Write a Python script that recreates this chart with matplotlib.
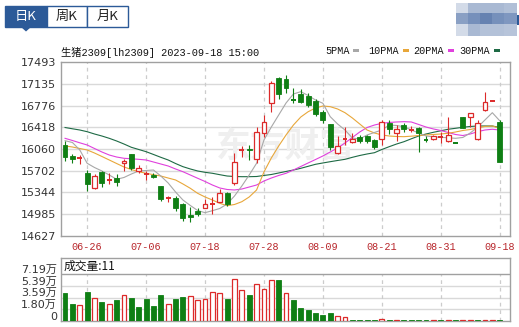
import matplotlib

matplotlib.use("Agg")
import matplotlib.pyplot as plt
from matplotlib.patches import Rectangle, Polygon
from matplotlib.transforms import ScaledTranslation, blended_transform_factory

W, H, DPI = 519, 327, 100

TITLE = "生猪2309[lh2309] 2023-09-18 15:00"
TABS = ["日K", "周K", "月K"]
MA_NAMES = ["5PMA", "10PMA", "20PMA", "30PMA"]

TICK_POS = [3, 11, 19, 27, 35, 43, 51, 59]
TICK_LABELS = ["06-26", "07-06", "07-18", "07-28", "08-09", "08-21", "08-31", "09-18"]
PRICE_TICKS = [14627, 14985, 15344, 15702, 16060, 16418, 16776, 17135, 17493]
VOL_TICKS = [0, 18000, 35900, 53900, 71900]
VOL_LABELS = ["0", "1.80万", "3.59万", "5.39万", "7.19万"]

# daily OHLC
OPEN = [16126, 15945, 15895, 15665, 15418, 15687, 15540, 15580, 15825, 15978,
        15700, 15640, 15630, 15450, 15240, 15260, 15160, 14965, 15040, 15085,
        15145, 15195, 15340, 15495, 16030, 16060, 15890, 16320, 16813, 17225,
        17208, 16885, 16960, 16935, 16855, 16665, 16472, 15998, 16215, 16170,
        16265, 16275, 16210, 16225, 16495, 16330, 16455, 16365, 16400, 16225,
        16220, 16250, 16195, 16170, 16580, 16595, 16220, 16703, 16850, 16510]
HIGH = [16192, 15978, 15960, 15714, 15640, 15700, 15660, 15650, 15900, 15985,
        15790, 15690, 15660, 15455, 15290, 15290, 15165, 15110, 15085, 15240,
        15270, 15400, 15345, 16000, 16110, 16125, 16430, 16620, 17185, 17250,
        17280, 17060, 17050, 16980, 16880, 16700, 16475, 16270, 16430, 16320,
        16290, 16290, 16220, 16540, 16540, 16455, 16485, 16440, 16430, 16275,
        16290, 16345, 16590, 16175, 16590, 16650, 16540, 16995, 16860, 16540]
LOW = [15862, 15830, 15815, 15370, 15400, 15440, 15480, 15450, 15700, 15710,
       15670, 15550, 15580, 15210, 15190, 15045, 14880, 14850, 14960, 15080,
       14990, 15190, 15120, 15465, 15935, 15880, 15825, 16255, 16675, 16880,
       16980, 16813, 16820, 16760, 16600, 16485, 16040, 15975, 16130, 16155,
       16155, 16165, 16055, 16125, 16310, 16200, 16345, 16345, 16015, 16180,
       16210, 16165, 16180, 16160, 16400, 16420, 16210, 16690, 16845, 15850]
CLOSE = [15928, 15895, 15910, 15483, 15616, 15496, 15555, 15510, 15860, 15755,
         15745, 15652, 15600, 15235, 15255, 15080, 14930, 14945, 14990, 15150,
         15160, 15330, 15150, 15840, 16045, 16040, 16345, 16510, 17142, 16966,
         17070, 16875, 16840, 16780, 16640, 16540, 16100, 16115, 16225, 16220,
         16195, 16190, 16100, 16510, 16385, 16395, 16390, 16375, 16320, 16215,
         16275, 16260, 16290, 16165, 16400, 16650, 16495, 16830, 16852, 15850]
VOLUME = [43300, 26000, 24500, 44900, 35200, 29100, 26000, 32600, 39800, 35700,
          21900, 34100, 23000, 39800, 25500, 33700, 36700, 37800, 32100, 33700,
          43900, 42400, 34100, 64300, 47400, 40200, 56200, 49000, 62700, 62700,
          42400, 32100, 20400, 16800, 11800, 9200, 12700, 7650, 6100, 900,
          700, 600, 800, 3200, 700, 500, 600, 400, 900, 300,
          400, 300, 600, 50, 400, 200, 300, 250, 30, 11]

# moving averages as drawn (they include history before the first candle)
MA5 = [16197, 16167, 16044, 15825, 15755, 15698, 15632, 15561, 15591, 15648,
       15698, 15706, 15714, 15615, 15500, 15352, 15220, 15130, 15047, 15011,
       15044, 15080, 15154, 15286, 15451, 15632, 15825, 16208, 16422, 16620,
       16818, 16966, 17004, 16941, 16867, 16813, 16592, 16472, 16373, 16241,
       16225, 16291, 16332, 16373, 16455, 16447, 16427, 16373, 16324, 16274,
       16261, 16253, 16245, 16236, 16250, 16324, 16418, 16538, 16658, 16526]
MA10 = [16110, 16093, 16068, 16044, 15994, 15937, 15879, 15821, 15764, 15722,
        15686, 15660, 15637, 15615, 15582, 15550, 15484, 15413, 15330, 15270,
        15220, 15166, 15126, 15146, 15192, 15270, 15385, 15681, 15912, 16110,
        16291, 16455, 16587, 16674, 16735, 16768, 16757, 16719, 16658, 16571,
        16472, 16373, 16324, 16291, 16274, 16266, 16263, 16271, 16282, 16291,
        16299, 16307, 16319, 16340, 16365, 16381, 16406, 16431, 16439, 16401]
MA20 = [16236, 16200, 16162, 16126, 16068, 16011, 15961, 15928, 15907, 15899,
        15890, 15879, 15846, 15813, 15780, 15731, 15686, 15632, 15578, 15525,
        15467, 15418, 15393, 15385, 15401, 15434, 15467, 15533, 15582, 15624,
        15660, 15714, 15772, 15830, 15887, 15945, 16011, 16077, 16159, 16250,
        16340, 16414, 16455, 16483, 16497, 16505, 16510, 16505, 16464, 16422,
        16390, 16365, 16332, 16299, 16282, 16307, 16345, 16373, 16385, 16373]
MA30 = [16414, 16393, 16373, 16345, 16307, 16274, 16236, 16192, 16142, 16088,
        16052, 16016, 15970, 15923, 15879, 15821, 15769, 15731, 15698, 15676,
        15660, 15637, 15615, 15607, 15604, 15604, 15607, 15624, 15640, 15665,
        15690, 15714, 15742, 15775, 15808, 15830, 15851, 15871, 15890, 15923,
        15953, 15978, 15999, 16052, 16098, 16142, 16180, 16228, 16274, 16307,
        16335, 16360, 16385, 16401, 16418, 16431, 16439, 16439, 16439, 16414]

RED = "#dc2a2a"
GREEN = "#0f7f14"
MA_COLORS = ["#a8a8a8", "#e8a73a", "#e040dd", "#1e6a45"]
TAB_BLUE = "#2c5a98"
GRID = "#d9d9d9"
FRAME = "#a0a0a0"
CJK = "Noto Sans CJK SC"
MONO = ["Liberation Mono", CJK]
SANS = ["DejaVu Sans", CJK]


def fx(x):
    return x / W


def fy(y):
    return 1 - y / H


def draw_candles(ax):
    bw = 0.66
    for i, (o, h, l, c) in enumerate(zip(OPEN, HIGH, LOW, CLOSE)):
        up = c >= o
        col = RED if up else GREEN
        top, bot = max(o, c), min(o, c)
        if top - bot < 18:
            ax.vlines(i, l, h, color=col, lw=0.8, zorder=3)
            ax.hlines(c, i - bw / 2, i + bw / 2, color=col, lw=1.4, zorder=3)
        elif up:
            ax.vlines(i, top, h, color=col, lw=0.8, zorder=3)
            ax.vlines(i, l, bot, color=col, lw=0.8, zorder=3)
            ax.add_patch(Rectangle((i - bw / 2, bot), bw, top - bot, facecolor="white",
                                   edgecolor=col, lw=0.9, zorder=3))
        else:
            ax.vlines(i, l, h, color=col, lw=0.8, zorder=3)
            ax.add_patch(Rectangle((i - bw / 2, bot), bw, top - bot, facecolor=col,
                                   edgecolor=col, lw=0.6, zorder=3))


def draw_volume(ax):
    bw = 0.66
    floor = 1100
    for i, v in enumerate(VOLUME):
        ref = CLOSE[i - 1] if i > 0 else OPEN[i]
        up = CLOSE[i] > ref
        hgt = max(v, floor)
        if up:
            ax.add_patch(Rectangle((i - bw / 2, 0), bw, hgt, facecolor="white",
                                   edgecolor=RED, lw=0.9, zorder=3))
        else:
            ax.add_patch(Rectangle((i - bw / 2, 0), bw, hgt, facecolor=GREEN,
                                   edgecolor=GREEN, lw=0.6, zorder=3))


def style_frame(ax):
    for s in ax.spines.values():
        s.set_color(FRAME)
        s.set_linewidth(1.0)
    ax.tick_params(length=0)


fig = plt.figure(figsize=(W / DPI, H / DPI), dpi=DPI)
fig.patch.set_facecolor("white")

# ---- top tabs
tab_x = [5, 47, 87, 128]
for k, name in enumerate(TABS):
    x0, x1 = tab_x[k], tab_x[k + 1]
    sel = k == 0
    fig.add_artist(Rectangle((fx(x0), fy(27)), fx(x1 - x0), 21 / H, transform=fig.transFigure,
                             facecolor=TAB_BLUE if sel else "white", edgecolor=TAB_BLUE, lw=1.0))
    fig.text(fx((x0 + x1) / 2), fy(16.5), name, ha="center", va="center", fontsize=9.5,
             family=[CJK], color="white" if sel else "#222222")
fig.add_artist(Polygon([(fx(21), fy(27)), (fx(31), fy(27)), (fx(26), fy(31.5))],
                       closed=True, transform=fig.transFigure, facecolor=TAB_BLUE, edgecolor="none"))

# ---- blurred block top right
cols = [456, 468, 480, 492, 504, 517]
rows = [3, 13, 24, 36]
shades = [["#d3dbe8", "#a9b9d3", "#a9b9d3", "#a9b9d3", "#b0bfd7"],
          ["#8aa0c4", "#7690bb", "#6682b1", "#7690bb", "#7f97c0"],
          ["#d3dbe8", "#a9b9d3", "#b3c1d8", "#b3c1d8", "#b7c4da"]]
for r in range(3):
    for c in range(5):
        fig.add_artist(Rectangle((fx(cols[c]), fy(rows[r + 1])), fx(cols[c + 1] - cols[c]),
                                 (rows[r + 1] - rows[r]) / H, transform=fig.transFigure,
                                 facecolor=shades[r][c], edgecolor="none"))
fig.add_artist(Rectangle((fx(517), fy(25)), fx(1.5), 10 / H, transform=fig.transFigure,
                         facecolor=TAB_BLUE, edgecolor="none"))

# ---- title and MA legend
fig.text(fx(61), fy(52), TITLE, ha="left", va="center", fontsize=7.4, family=MONO, color="#111111")
leg_x = [325, 368, 413, 459]
for name, x0, col in zip(MA_NAMES, leg_x, MA_COLORS):
    fig.text(fx(x0), fy(51), name, ha="left", va="center", fontsize=7.3, family=MONO,
             color="#111111")
    dx = 6.1 * len(name) + 4
    fig.add_artist(Rectangle((fx(x0 + dx), fy(52)), fx(6), 3 / H, transform=fig.transFigure,
                             facecolor=col, edgecolor="none"))

# ---- price panel
ax = fig.add_axes([fx(61), fy(236), fx(510 - 61), (236 - 62) / H])
n = len(CLOSE)
ax.set_xlim(-0.55, 60.4)
ax.set_ylim(PRICE_TICKS[0], PRICE_TICKS[-1])
ax.set_yticks(PRICE_TICKS)
ax.set_yticklabels([str(t) for t in PRICE_TICKS], fontsize=8, family=SANS, color="#333333")
ax.set_xticks(TICK_POS)
ax.set_xticklabels(TICK_LABELS, fontsize=7.3, family=MONO, color="#b8262b")
ax.tick_params(axis="y", pad=3.5)
ax.tick_params(axis="x", pad=4)
style_frame(ax)
for p in PRICE_TICKS[1:-1]:
    ax.axhline(p, color=GRID, lw=1.0, zorder=0)
ax.vlines(TICK_POS, PRICE_TICKS[0], PRICE_TICKS[-1], color="#cccccc", lw=0.9,
          linestyles=(0, (3, 3)), zorder=0)
ax.text(0.5, 0.52, "东方财富", transform=ax.transAxes, ha="center", va="center", fontsize=25,
        family=[CJK], fontweight="bold", color="#efefef", zorder=0.5)

x = list(range(n))
for ma, col in zip([MA30, MA20, MA10, MA5], MA_COLORS[::-1]):
    ax.plot(x, ma, color=col, lw=0.8, zorder=2)
draw_candles(ax)

# ---- volume panel
vtop = VOL_TICKS[-1] * (321 - 258) / (321 - 274)
av = fig.add_axes([fx(61), fy(321), fx(510 - 61), (321 - 258) / H])
av.set_xlim(-0.55, 60.4)
av.set_ylim(0, vtop)
av.set_xticks([])
av.set_yticks([])
style_frame(av)
for v in VOL_TICKS[1:-1]:
    av.axhline(v, color=GRID, lw=1.0, zorder=0)
av.axhline(VOL_TICKS[-1], color=FRAME, lw=1.0, zorder=1)
av.vlines(TICK_POS, 0, VOL_TICKS[-1], color="#cccccc", lw=0.9,
          linestyles=(0, (3, 3)), zorder=0)
lab_tr = blended_transform_factory(av.transAxes, av.transData) + \
    ScaledTranslation(0, 3 / 72, fig.dpi_scale_trans)
for v, lab in zip(VOL_TICKS, VOL_LABELS):
    av.text(-0.009, v, lab, transform=lab_tr, ha="right", va="center", fontsize=8,
            family=SANS, color="#333333")
av.text(0.005, (VOL_TICKS[-1] + vtop) / 2, f"成交量:{VOLUME[-1]}", ha="left", va="center",
        fontsize=8.5, family=[CJK], color="#111111",
        transform=blended_transform_factory(av.transAxes, av.transData))
draw_volume(av)

fig.savefig("out.png", dpi=DPI)
